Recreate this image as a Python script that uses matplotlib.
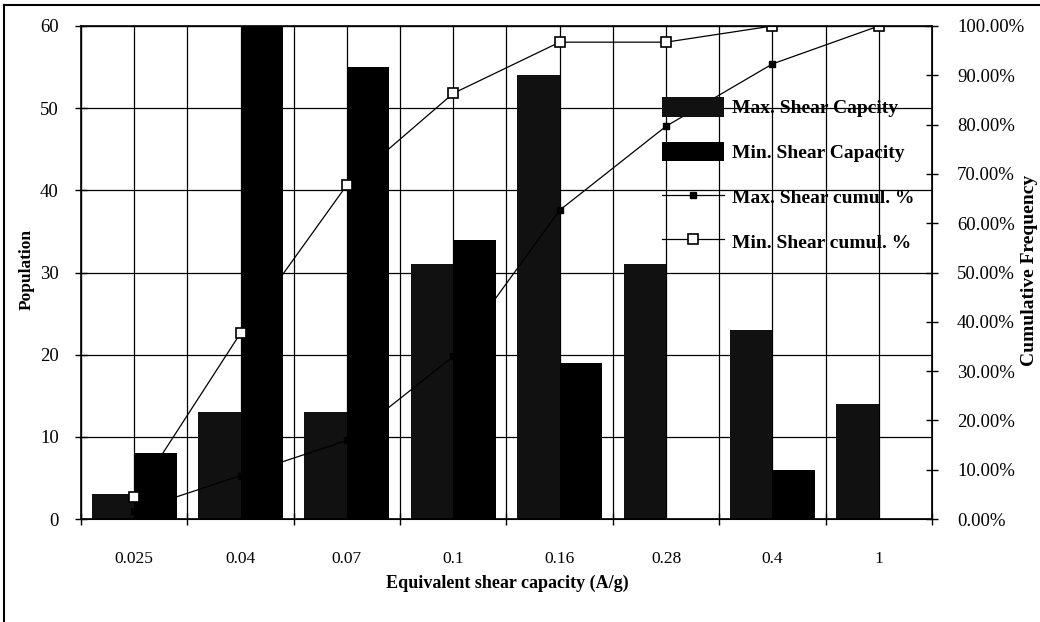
import numpy as np
import matplotlib
matplotlib.use('Agg')
import matplotlib.pyplot as plt
from matplotlib.lines import Line2D
from matplotlib.ticker import PercentFormatter

# data
categories = ['0.025', '0.04', '0.07', '0.1', '0.16', '0.28', '0.4', '1']
max_counts = [3, 13, 13, 31, 54, 31, 23, 14]
min_counts = [8, 61, 55, 34, 19, 0, 6, 0]

max_cum = np.cumsum(max_counts) / np.sum(max_counts) * 100
min_cum = np.cumsum(min_counts) / np.sum(min_counts) * 100

plt.rcParams['font.family'] = ['Liberation Serif', 'DejaVu Serif']

fig = plt.figure(figsize=(10.4, 6.22), dpi=100)
ax = fig.add_axes([81/1040, 1 - 519/622, (932-81)/1040, (519-26)/622])

x = np.arange(len(categories))
w = 0.4
b1 = ax.bar(x - w/2, max_counts, w, color='#111111', label='Max. Shear Capcity', zorder=2)
b2 = ax.bar(x + w/2, min_counts, w, color='black', label='Min. Shear Capacity', zorder=2)

ax.set_xlim(-0.5, len(categories) - 0.5)
ax.set_ylim(0, 60)
ax.set_yticks(range(0, 61, 10))
ax.set_xticks(x)
ax.set_xticklabels(categories)
ax.set_xticks(np.arange(-0.5, len(categories), 1), minor=True)
ax.tick_params(axis='x', which='major', length=0, pad=23, labelsize=12.5)
ax.tick_params(axis='x', which='minor', direction='inout', length=8, width=1)
ax.tick_params(axis='y', direction='inout', length=8, width=1, pad=12, labelsize=13.5)
ax.set_axisbelow(True)
ax.grid(True, axis='y', color='black', lw=0.9)
ax.grid(True, axis='x', which='both', color='black', lw=0.9)
for s in ax.spines.values():
    s.set_linewidth(1.2)

ax2 = ax.twinx()
l1, = ax2.plot(x, max_cum, color='black', lw=0.9, marker='s', ms=5,
               mfc='black', mec='black', label='Max. Shear cumul. %')
l2, = ax2.plot(x, min_cum, color='black', lw=0.9, marker='s', ms=7,
               mfc='white', mec='black', mew=1.2, label='Min. Shear cumul. %')
ax2.set_ylim(0, 100)
ax2.set_yticks(range(0, 101, 10))
ax2.yaxis.set_major_formatter(PercentFormatter(decimals=2))
ax2.tick_params(axis='y', direction='inout', length=8, width=1, pad=14, labelsize=13.5)

leg = ax2.legend(handles=[b1, b2, l1, l2], loc='upper left',
                 bbox_to_anchor=(652/1040, 1 - 87/622), bbox_transform=fig.transFigure,
                 frameon=False, handlelength=3.2, handleheight=1.2,
                 labelspacing=1.25, handletextpad=0.4, borderpad=0,
                 prop={'weight': 'bold', 'size': 14})

fig.text(27/1040, 1 - 270/622, 'Population', rotation=90, ha='center', va='center',
         fontsize=12.5, fontweight='bold')
fig.text(1029/1040, 1 - 270/622, 'Cumulative Frequency', rotation=90, ha='center',
         va='center', fontsize=14, fontweight='bold')
fig.text(507/1040, 1 - 583/622, 'Equivalent shear capacity (A/g)', ha='center',
         va='center', fontsize=13, fontweight='bold')

# chart area border (left and top edges visible in the scan)
fig.add_artist(Line2D([4/1040, 4/1040], [0, 1 - 5/622], color='black', lw=1.5))
fig.add_artist(Line2D([4/1040, 1], [1 - 5/622, 1 - 5/622], color='black', lw=1.5))

fig.savefig('out.png', dpi=100)
